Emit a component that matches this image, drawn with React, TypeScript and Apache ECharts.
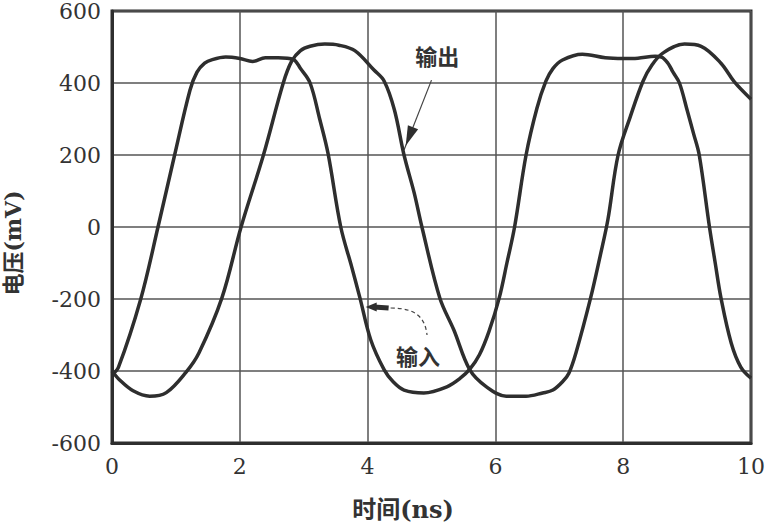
import React, { useEffect, useRef } from "react";
import * as echarts from "echarts";

// 输入 (input) waveform: time (ns) and voltage (mV)
const inputTime = [0, 0.1, 0.45, 0.72, 0.98, 1.22, 1.33, 1.45, 1.57, 1.78, 2.0, 2.2, 2.4, 2.6, 2.84, 2.95, 3.1, 3.25, 3.38, 3.58, 3.75, 3.88, 4.05, 4.26, 4.4, 4.57, 4.88, 5.24, 5.45, 5.6, 5.75, 5.9, 6.06, 6.18, 6.3, 6.48, 6.65, 6.79, 6.9, 7.05, 7.36, 7.72, 8.0, 8.23, 8.5, 8.6, 8.7, 8.78, 8.88, 9.0, 9.1, 9.19, 9.35, 9.44, 9.53, 9.69, 9.84, 10];
const inputMv = [-410, -390, -200, 0, 200, 380, 430, 455, 465, 472, 468, 460, 470, 470, 465, 440, 400, 300, 205, 0, -110, -197, -314, -397, -430, -453, -461, -444, -420, -395, -355, -290, -197, -100, 0, 200, 330, 405, 440, 464, 480, 470, 468, 469, 474, 472, 455, 430, 400, 325, 260, 200, 0, -100, -197, -322, -389, -420];

// 输出 (output) waveform
const outputTime = [0, 0.12, 0.33, 0.59, 0.85, 1.16, 1.36, 1.72, 2.02, 2.37, 2.68, 2.81, 2.95, 3.1, 3.33, 3.55, 3.8, 4.1, 4.26, 4.42, 4.57, 4.73, 4.85, 5.13, 5.35, 5.6, 5.86, 6.17, 6.48, 6.74, 6.9, 7.05, 7.15, 7.26, 7.49, 7.64, 7.76, 7.92, 8.11, 8.31, 8.45, 8.62, 8.96, 9.22, 9.53, 9.74, 10];
const outputMv = [-400, -425, -455, -470, -460, -403, -350, -197, 0, 200, 400, 460, 490, 502, 508, 505, 490, 436, 405, 325, 200, 94, 0, -197, -286, -397, -444, -470, -470, -461, -453, -430, -406, -350, -197, -80, 20, 200, 306, 405, 450, 483, 508, 502, 455, 403, 355];

const xAxisTitle = "时间(ns)";
const yAxisTitle = "电压(mV)";
const outputLabel = "输出";
const inputLabel = "输入";

// annotation anchors in data coordinates [ns, mV]
const outputLabelAt = [5.09, 472];
const outputArrowTail = [5.0, 408];
const outputArrowTip = [4.57, 214];
const inputLabelAt = [4.79, -361];
const inputArrowTip = [3.97, -222];
const inputDashStart = [4.36, -225];
const inputDashCp1 = [4.78, -225];
const inputDashCp2 = [4.9, -255];
const inputDashEnd = [4.93, -300];

const INK = "#2e2e2e";
const SERIF = "DejaVu Serif, Liberation Serif, serif";
const CJK = "DejaVu Serif, Noto Sans CJK SC, serif";

function zip(t: number[], v: number[]) {
  return t.map((x, i) => [x, v[i]]);
}

function arrowHead(tip: number[], from: number[], len: number, half: number) {
  const dx = tip[0] - from[0];
  const dy = tip[1] - from[1];
  const d = Math.hypot(dx, dy) || 1;
  const ux = dx / d, uy = dy / d;
  const bx = tip[0] - ux * len, by = tip[1] - uy * len;
  return [
    [tip[0], tip[1]],
    [bx - uy * half, by + ux * half],
    [bx + uy * half, by - ux * half],
  ];
}

export default function App() {
  const ref = useRef<HTMLDivElement>(null);
  useEffect(() => {
    document.body.style.margin = "0";
    document.body.style.overflow = "hidden";
    document.documentElement.style.overflow = "hidden";
    const chart = echarts.init(ref.current!, null, { renderer: "svg", width: 768, height: 524 });
    chart.setOption({
      animation: false,
      backgroundColor: "#ffffff",
      grid: {
        left: 112,
        right: 11,
        top: 11,
        bottom: 81,
        show: true,
        borderColor: INK,
        borderWidth: 3,
        backgroundColor: "transparent",
      },
      xAxis: {
        type: "value",
        min: 0,
        max: 10,
        interval: 2,
        axisLine: { show: true, onZero: false, lineStyle: { color: INK, width: 3 } },
        axisTick: { show: false },
        axisLabel: { color: "#333", fontSize: 22, fontFamily: SERIF, margin: 12 },
        splitLine: { show: true, lineStyle: { color: "#555", width: 1.5 } },
      },
      yAxis: {
        type: "value",
        min: -600,
        max: 600,
        interval: 200,
        axisLine: { show: true, onZero: false, lineStyle: { color: INK, width: 3 } },
        axisTick: { show: false },
        axisLabel: { color: "#333", fontSize: 22, fontFamily: SERIF, margin: 11 },
        splitLine: { show: true, lineStyle: { color: "#555", width: 1.5 } },
      },
      series: [
        {
          name: inputLabel,
          type: "line",
          data: zip(inputTime, inputMv),
          showSymbol: false,
          smooth: 0.35,
          lineStyle: { color: INK, width: 3.5 },
        },
        {
          name: outputLabel,
          type: "line",
          data: zip(outputTime, outputMv),
          showSymbol: false,
          smooth: 0.35,
          lineStyle: { color: INK, width: 3.5 },
        },
      ],
    });

    const px = (p: number[]) => chart.convertToPixel({ gridIndex: 0 }, p) as number[];
    const oL = px(outputLabelAt);
    const oT = px(outputArrowTail);
    const oP = px(outputArrowTip);
    const iL = px(inputLabelAt);
    const iP = px(inputArrowTip);
    const d0 = px(inputDashStart);
    const d1 = px(inputDashCp1);
    const d2 = px(inputDashCp2);
    const d3 = px(inputDashEnd);
    const oHeadTip = [oP[0] + (oT[0] - oP[0]) * 0.06, oP[1] + (oT[1] - oP[1]) * 0.06];

    chart.setOption({
      graphic: [
        {
          type: "text",
          x: oL[0],
          y: oL[1],
          style: { text: outputLabel, fill: "#333", fontSize: 22, fontWeight: "bold", fontFamily: CJK, align: "center", verticalAlign: "middle" },
        },
        {
          type: "line",
          shape: { x1: oT[0], y1: oT[1], x2: oP[0], y2: oP[1] },
          style: { stroke: "#444", lineWidth: 1.2 },
        },
        {
          type: "polygon",
          shape: { points: arrowHead(oHeadTip, oT, 20, 5.5) },
          style: { fill: INK },
        },
        {
          type: "text",
          x: iL[0],
          y: iL[1],
          style: { text: inputLabel, fill: "#333", fontSize: 22, fontWeight: "bold", fontFamily: CJK, align: "center", verticalAlign: "middle" },
        },
        {
          type: "bezierCurve",
          shape: { x1: d0[0], y1: d0[1], cpx1: d1[0], cpy1: d1[1], cpx2: d2[0], cpy2: d2[1], x2: d3[0], y2: d3[1] },
          style: { stroke: "#444", lineWidth: 1.2, lineDash: [4, 3], fill: "none" },
        },
        {
          type: "line",
          shape: { x1: iP[0] + 8, y1: iP[1], x2: d0[0] - 2, y2: d0[1] },
          style: { stroke: INK, lineWidth: 5 },
        },
        {
          type: "polygon",
          shape: { points: arrowHead(iP, [iP[0] + 20, iP[1]], 11, 4.5) },
          style: { fill: INK },
        },
        {
          type: "text",
          x: 13,
          y: 243,
          rotation: Math.PI / 2,
          style: { text: yAxisTitle, fill: "#333", fontSize: 22, fontWeight: "bold", fontFamily: CJK, align: "center", verticalAlign: "middle" },
        },
        {
          type: "text",
          x: 403,
          y: 509,
          style: { text: xAxisTitle, fill: "#333", fontSize: 24, fontWeight: "bold", fontFamily: CJK, align: "center", verticalAlign: "middle" },
        },
      ],
    });
    return () => chart.dispose();
  }, []);
  return <div ref={ref} style={{ position: "fixed", left: 0, top: 0, width: 768, height: 524 }} />;
}
